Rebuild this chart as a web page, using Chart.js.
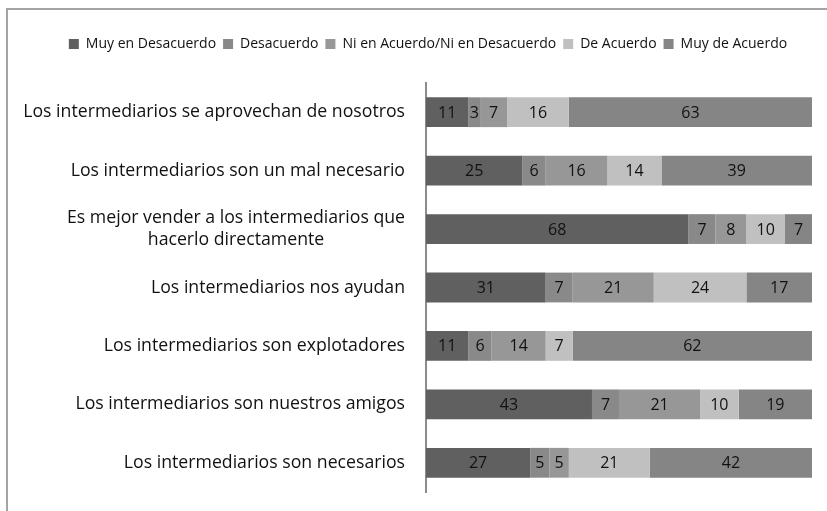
<!DOCTYPE html>
<html lang="es">
<head>
<meta charset="utf-8">
<title>Intermediarios</title>
<script src="https://cdn.jsdelivr.net/npm/chart.js@4/dist/chart.umd.min.js"></script>
<style>
  html, body { margin: 0; padding: 0; background: #fff; overflow: hidden; }
  .frame {
    position: absolute; left: 6px; top: 8px; width: 900px; height: 600px;
    border-top: 2px solid #a3a3a3; border-left: 2px solid #a3a3a3;
  }
  .wrap { position: absolute; left: 0; top: 0; width: 827px; height: 511px; }
</style>
</head>
<body>
<div class="frame"></div>
<div class="wrap"><canvas id="chart" width="827" height="511"></canvas></div>
<script>
const categories = [
  ['Los intermediarios se aprovechan de nosotros'],
  ['Los intermediarios son un mal necesario'],
  ['Es mejor vender a los intermediarios que', 'hacerlo directamente'],
  ['Los intermediarios nos ayudan'],
  ['Los intermediarios son explotadores'],
  ['Los intermediarios son nuestros amigos'],
  ['Los intermediarios son necesarios'],
];
const seriesNames = ['Muy en Desacuerdo', 'Desacuerdo', 'Ni en Acuerdo/Ni en Desacuerdo', 'De Acuerdo', 'Muy de Acuerdo'];
const muyDesacuerdo = [11, 25, 68, 31, 11, 43, 27];
const desacuerdo    = [3, 6, 7, 7, 6, 7, 5];
const neutral       = [7, 16, 8, 21, 14, 21, 5];
const deAcuerdo     = [16, 14, 10, 24, 7, 10, 21];
const muyDeAcuerdo  = [63, 39, 7, 17, 62, 19, 42];
const seriesColors = ['#606060', '#898989', '#979797', '#c0c0c0', '#858585'];

const FONT = "'Open Sans', Lato, sans-serif";

/* value labels centred in each segment */
const segmentLabels = {
  id: 'segmentLabels',
  afterDatasetsDraw(chart) {
    const { ctx } = chart;
    ctx.save();
    ctx.font = `16px ${FONT}`;
    ctx.fillStyle = '#111';
    ctx.textAlign = 'center';
    ctx.textBaseline = 'middle';
    chart.data.datasets.forEach((ds, i) => {
      chart.getDatasetMeta(i).data.forEach((bar, j) => {
        const { x, y, base } = bar.getProps(['x', 'y', 'base'], true);
        ctx.fillText(String(ds.data[j]), (x + base) / 2, y + 1);
      });
    });
    ctx.restore();
  },
};

/* category labels, multi-line blocks centred like the original */
const categoryLabels = {
  id: 'categoryLabels',
  afterDraw(chart) {
    const { ctx } = chart;
    const yScale = chart.scales.y;
    const right = chart.chartArea.left - 21;
    const lineH = 22;
    ctx.save();
    ctx.font = `17.7px ${FONT}`;
    ctx.fillStyle = '#111';
    ctx.textAlign = 'center';
    ctx.textBaseline = 'middle';
    categories.forEach((lines, i) => {
      const maxW = Math.max(...lines.map((l) => ctx.measureText(l).width));
      const cx = right - maxW / 2;
      const cy = yScale.getPixelForValue(i);
      const top = cy - ((lines.length - 1) * lineH) / 2;
      lines.forEach((l, k) => ctx.fillText(l, cx, top + k * lineH));
    });
    ctx.restore();
  },
};

/* extra space under the legend */
const legendGap = {
  id: 'legendGap',
  beforeInit(chart) {
    const fit = chart.legend.fit;
    chart.legend.fit = function () {
      fit.bind(chart.legend)();
      this.height += 22;
    };
  },
};

const datasets = [muyDesacuerdo, desacuerdo, neutral, deAcuerdo, muyDeAcuerdo].map((data, i) => ({
  label: seriesNames[i],
  data,
  backgroundColor: seriesColors[i],
  borderWidth: 0,
  barPercentage: 0.51,
  categoryPercentage: 1,
}));

new Chart(document.getElementById('chart'), {
  type: 'bar',
  data: { labels: categories.map((c) => c.join(' ')), datasets },
  options: {
    indexAxis: 'y',
    responsive: false,
    animation: false,
    layout: { padding: { top: 30, right: 15, bottom: 19, left: 44 } },
    plugins: {
      legend: {
        position: 'top',
        labels: {
          boxWidth: 10,
          boxHeight: 10,
          padding: 7,
          color: '#111',
          font: { size: 14, family: FONT },
        },
      },
      tooltip: { enabled: false },
    },
    scales: {
      x: { stacked: true, min: 0, max: 100, display: false },
      y: {
        stacked: true,
        grid: { display: false },
        border: { display: true, color: '#8c8c8c', width: 2 },
        ticks: { display: false },
        afterFit(scale) { scale.width = 382; },
      },
    },
  },
  plugins: [legendGap, segmentLabels, categoryLabels],
});
</script>
</body>
</html>
